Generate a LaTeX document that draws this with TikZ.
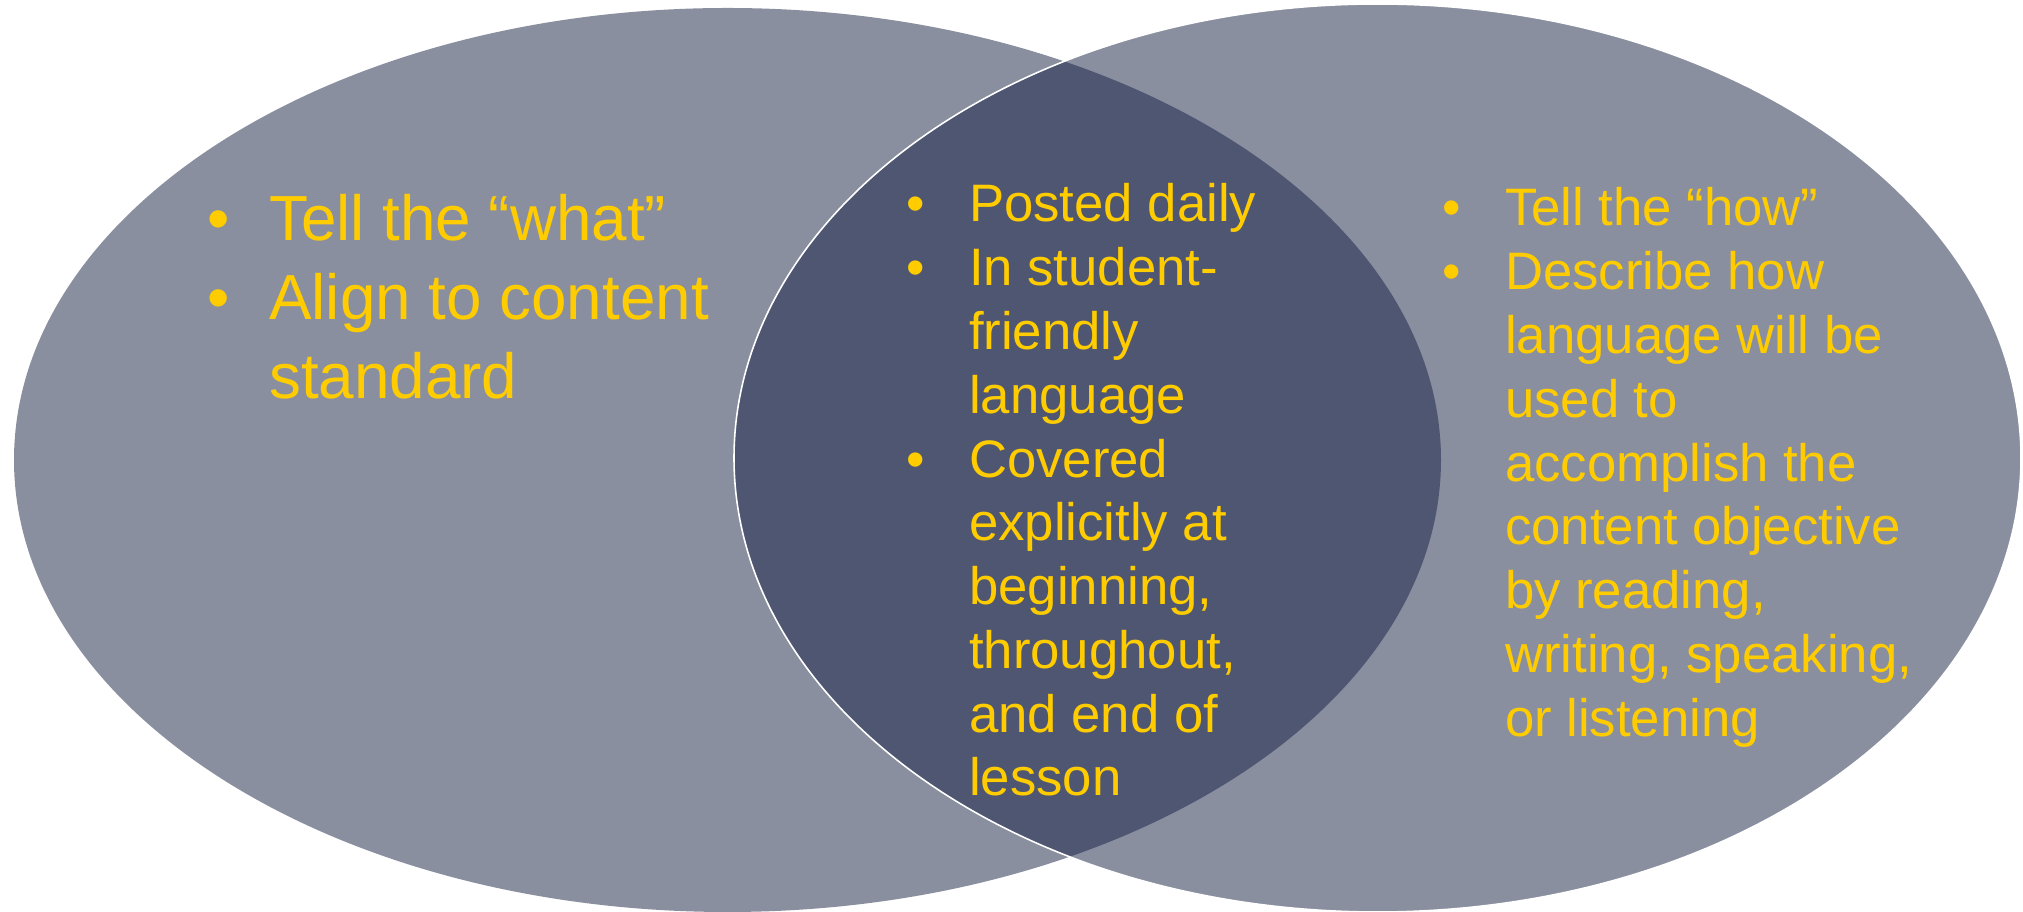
\documentclass[tikz,border=0pt]{standalone}
\usepackage{fontspec}
\setmainfont{Liberation Sans}
\definecolor{venngray}{HTML}{8A8FA0}
\definecolor{venndark}{HTML}{4F5672}
\definecolor{vennyellow}{HTML}{FFCC00}
\tikzset{
	points/.style={anchor=base west, inner sep=0pt, text=vennyellow},
	bigpts/.style={points, font=\fontsize{36.3}{44.9}\selectfont},
	smallpts/.style={points, font=\fontsize{30}{36.3}\selectfont}
}
\begin{document}
\begin{tikzpicture}[x=0.02cm, y=0.02cm]
	\useasboundingbox (0,0) rectangle (2023,912);
	\coordinate (L) at (727.5,452);
	\coordinate (R) at (1377.5,454);
	\fill[venngray] (L) ellipse [x radius=713.5, y radius=452];
	\fill[venngray] (R) ellipse [x radius=643.5, y radius=454];
	\begin{scope}
		\clip (L) ellipse [x radius=713.5, y radius=452];
		\fill[venndark] (R) ellipse [x radius=643.5, y radius=454];
	\end{scope}
	\draw[white, line width=0.9pt] (R) ellipse [x radius=643.5, y radius=454];
	\node[bigpts] (what) at (207,671.3) {\begin{tabular}[t]{@{}p{35.2pt}@{}l@{}}
		• & Tell the “what”\\
		• & Align to content\\
		  & standard
	\end{tabular}};
	\node[smallpts] (both) at (906,690) {\begin{tabular}[t]{@{}p{35.7pt}@{}l@{}}
		• & Posted daily\\
		• & In student-\\
		  & friendly\\
		  & language\\
		• & Covered\\
		  & explicitly at\\
		  & beginning,\\
		  & throughout,\\
		  & and end of\\
		  & lesson
	\end{tabular}};
	\node[smallpts] (how) at (1442,686) {\begin{tabular}[t]{@{}p{35.7pt}@{}l@{}}
		• & Tell the “how”\\
		• & Describe how\\
		  & language will be\\
		  & used to\\
		  & accomplish the\\
		  & content objective\\
		  & by reading,\\
		  & writing, speaking,\\
		  & or listening
	\end{tabular}};
\end{tikzpicture}
\end{document}
